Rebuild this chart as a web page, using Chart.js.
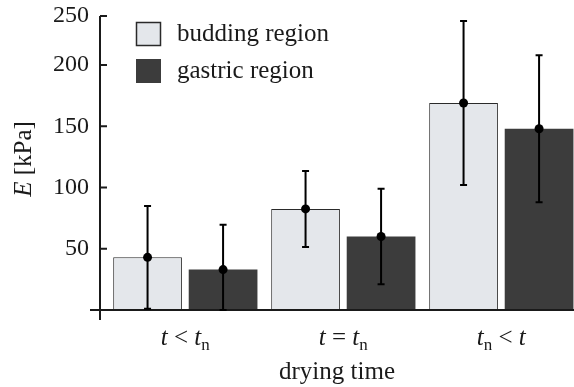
<!DOCTYPE html>
<html>
<head>
<meta charset="utf-8">
<script src="https://cdn.jsdelivr.net/npm/chart.js@4.4.1/dist/chart.umd.min.js"></script>
<style>
  html, body { margin: 0; padding: 0; background: #fff; }
  #wrap { width: 574px; height: 387px; }
</style>
</head>
<body>
<div id="wrap"><canvas id="myChart"></canvas></div>
<script>
// categories: 't' is an italic variable, '_n' a roman subscript
const categories = ['t < t_n', 't = t_n', 't_n < t'];
const seriesNames = ['budding region', 'gastric region'];
const buddingMean = [43, 82.5, 169];
const buddingLow = [1, 51.5, 102];
const buddingHigh = [85, 113.5, 236];
const gastricMean = [33, 60, 148];
const gastricLow = [0, 21, 88];
const gastricHigh = [69.5, 99, 208];
const yTickValues = [50, 100, 150, 200, 240];
const yTickLabels = ['50', '100', '150', '200', '250'];

const errLow = [buddingLow, gastricLow];
const errHigh = [buddingHigh, gastricHigh];
const FONT = "'Liberation Serif', 'Times New Roman', serif";
const INK = '#1a1a1a';

function parseLabel(str) {
	return str.split(/(_\w|[a-zA-Z])/).filter(s => s !== '').map(s => {
		if (s[0] === '_') return { t: s.slice(1), sub: true };
		if (/^[a-zA-Z]$/.test(s)) return { t: s, italic: true };
		return { t: s };
	});
}

function drawParts(ctx, parts, cx, base, size) {
	const fontOf = p => (p.italic ? 'italic ' : '') + (p.sub ? Math.round(size * 0.68) : size) + 'px ' + FONT;
	let w = 0;
	parts.forEach(p => { ctx.font = fontOf(p); w += ctx.measureText(p.t).width; });
	let x = cx - w / 2;
	parts.forEach(p => {
		ctx.font = fontOf(p);
		ctx.fillText(p.t, x, p.sub ? base + 5 : base);
		x += ctx.measureText(p.t).width;
	});
}

const extras = {
	id: 'extras',
	afterDatasetsDraw(chart) {
		const ctx = chart.ctx;
		const y = chart.scales.y;
		const area = chart.chartArea;
		ctx.save();
		// axes, both run a little past the origin, ticks point inward
		ctx.strokeStyle = INK;
		ctx.lineWidth = 2;
		ctx.beginPath();
		ctx.moveTo(area.left, area.top);
		ctx.lineTo(area.left, area.bottom + 10);
		ctx.moveTo(area.left - 10, area.bottom);
		ctx.lineTo(area.right, area.bottom);
		yTickValues.forEach(v => {
			const py = y.getPixelForValue(v);
			ctx.moveTo(area.left, py);
			ctx.lineTo(area.left + 7, py);
		});
		ctx.stroke();

		// error bars and mean dots
		ctx.strokeStyle = '#000';
		ctx.fillStyle = '#000';
		chart.data.datasets.forEach((ds, d) => {
			chart.getDatasetMeta(d).data.forEach((bar, i) => {
				const top = y.getPixelForValue(errHigh[d][i]);
				const bot = y.getPixelForValue(errLow[d][i]);
				ctx.beginPath();
				ctx.moveTo(bar.x, top);
				ctx.lineTo(bar.x, bot);
				ctx.moveTo(bar.x - 3.5, top);
				ctx.lineTo(bar.x + 3.5, top);
				ctx.moveTo(bar.x - 3.5, bot);
				ctx.lineTo(bar.x + 3.5, bot);
				ctx.stroke();
				ctx.beginPath();
				ctx.arc(bar.x, bar.y, 4.5, 0, Math.PI * 2);
				ctx.fill();
			});
		});
		ctx.restore();
	},
	afterDraw(chart) {
		const ctx = chart.ctx;
		const x = chart.scales.x;
		const area = chart.chartArea;
		ctx.save();
		ctx.fillStyle = INK;
		ctx.textBaseline = 'alphabetic';
		ctx.textAlign = 'left';

		categories.forEach((c, i) => {
			drawParts(ctx, parseLabel(c), x.getPixelForValue(i), area.bottom + 35, 25);
		});
		drawParts(ctx, [{ t: 'drying time' }], (area.left + area.right) / 2 + 0, area.bottom + 69, 25);

		ctx.save();
		ctx.translate(31, 159);
		ctx.rotate(-Math.PI / 2);
		drawParts(ctx, [{ t: 'E', italic: true }, { t: ' [kPa]' }], 0, 0, 25);
		ctx.restore();

		// legend
		const lx = area.left + 36;
		chart.data.datasets.forEach((ds, d) => {
			const ly = area.top + 6 + d * 37;
			ctx.fillStyle = ds.backgroundColor;
			ctx.fillRect(lx, ly, 25, 24);
			if (ds.borderWidth) {
				ctx.strokeStyle = ds.borderColor;
				ctx.lineWidth = 1.5;
				ctx.strokeRect(lx + 0.5, ly + 0.5, 24, 23);
			}
			ctx.fillStyle = INK;
			ctx.font = '25px ' + FONT;
			ctx.fillText(ds.label, lx + 41, ly + 19);
		});
		ctx.restore();
	}
};

new Chart(document.getElementById('myChart'), {
	type: 'bar',
	data: {
		datasets: [
			{
				label: seriesNames[0],
				data: buddingMean.map((v, i) => ({ x: i, y: v })),
				backgroundColor: '#e4e7eb',
				borderColor: '#2a2a2a',
				borderWidth: 1
			},
			{
				label: seriesNames[1],
				data: gastricMean.map((v, i) => ({ x: i, y: v })),
				backgroundColor: '#3c3c3c',
				borderWidth: 0
			}
		]
	},
	options: {
		responsive: true,
		maintainAspectRatio: false,
		animation: false,
		barPercentage: 0.91,
		categoryPercentage: 0.956,
		layout: { padding: { top: 16, right: 0, bottom: 0, left: 0 } },
		plugins: {
			legend: { display: false },
			tooltip: { enabled: false }
		},
		scales: {
			x: {
				type: 'linear',
				min: -0.54,
				max: 2.46,
				offset: false,
				grid: { display: false, drawTicks: false },
				border: { display: false },
				ticks: { display: false },
				afterBuildTicks: s => { s.ticks = categories.map((c, i) => ({ value: i })); },
				afterFit: s => { s.height = 77; s.paddingLeft = 0; s.paddingRight = 0; }
			},
			y: {
				min: 0,
				max: 240,
				grid: { display: false, drawTicks: false },
				border: { display: false },
				ticks: {
					padding: 11,
					color: INK,
					font: { family: FONT, size: 24 },
					callback: (v, i) => yTickLabels[i]
				},
				afterBuildTicks: s => { s.ticks = yTickValues.map(v => ({ value: v })); },
				afterFit: s => { s.width = 100; s.paddingTop = 0; s.paddingBottom = 0; }
			}
		}
	},
	plugins: [extras]
});
</script>
</body>
</html>
